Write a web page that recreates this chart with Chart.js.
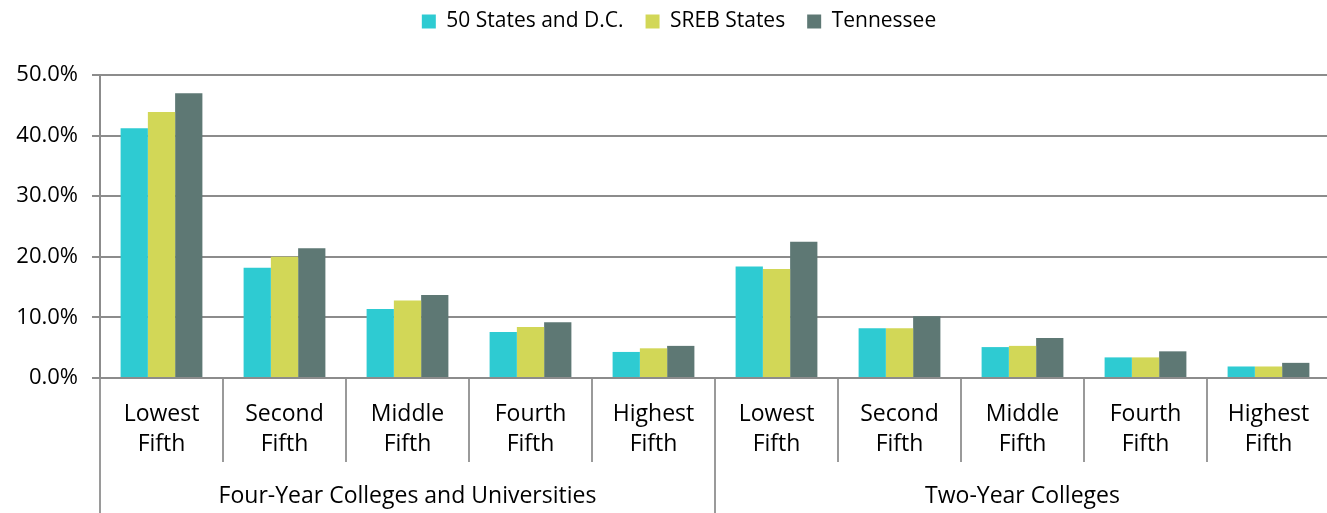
<!DOCTYPE html>
<html>
<head>
<meta charset="utf-8">
<script src="https://cdn.jsdelivr.net/npm/chart.js@4"></script>
<style>
  html, body { margin: 0; padding: 0; background: #fff; overflow: hidden; }
  #wrap { width: 1330px; height: 513px; }
</style>
</head>
<body>
<div id="wrap"><canvas id="incomeChart" width="1330" height="513"></canvas></div>
<script>
// income fifths, repeated for each college type
const fifths = [
  ["Lowest", "Fifth"], ["Second", "Fifth"], ["Middle", "Fifth"], ["Fourth", "Fifth"], ["Highest", "Fifth"],
  ["Lowest", "Fifth"], ["Second", "Fifth"], ["Middle", "Fifth"], ["Fourth", "Fifth"], ["Highest", "Fifth"]
];
const collegeTypes = ["Four-Year Colleges and Universities", "Two-Year Colleges"];

const allStates = [41.2, 18.2, 11.4, 7.6, 4.3, 18.4, 8.2, 5.1, 3.4, 1.9];
const srebStates = [43.9, 20.0, 12.8, 8.4, 4.9, 18.0, 8.2, 5.3, 3.4, 1.9];
const tennessee = [47.0, 21.4, 13.7, 9.2, 5.3, 22.5, 10.2, 6.6, 4.4, 2.5];

const FONT = "'Open Sans', sans-serif";
const LINE = "#8c8c8c";
const SEP = "#9a9a9a";

Chart.defaults.font.family = FONT;
Chart.defaults.font.size = 23;
Chart.defaults.color = "#000";

// extra room between the legend row and the plot, legend nudged right
const legendGap = {
  id: "legendGap",
  beforeInit(chart) {
    const fit = chart.legend.fit;
    chart.legend.fit = function () {
      fit.call(this);
      this.height += 33;
    };
  },
  afterLayout(chart) {
    chart.legend.left += 14;
    chart.legend.right += 14;
  }
};

const data = {
  labels: fifths,
  datasets: [
    { label: "50 States and D.C.", data: allStates, backgroundColor: "#2ecbd2" },
    { label: "SREB States", data: srebStates, backgroundColor: "#d2d757" },
    { label: "Tennessee", data: tennessee, backgroundColor: "#5e7874" }
  ]
};

let config = {
  type: "bar",
  data: data,
  plugins: [legendGap],
  options: {
    responsive: false,
    animation: false,
    devicePixelRatio: 1,
    categoryPercentage: 0.665,
    barPercentage: 1.0,
    layout: { padding: { top: -11, left: 0, right: 0, bottom: 0 } },
    scales: {
      y: {
        min: 0,
        max: 50,
        ticks: {
          stepSize: 10,
          padding: 14,
          font: { size: 22 },
          callback: (v) => v.toFixed(1) + "%"
        },
        grid: { color: LINE, lineWidth: 2, tickLength: 8 },
        border: { color: LINE, width: 2 },
        afterFit: (scale) => { scale.width = 100; }
      },
      x: {
        grid: { offset: true, drawOnChartArea: false, color: SEP, lineWidth: 2, tickLength: 84 },
        border: { color: LINE, width: 2 },
        ticks: {
          padding: -62,
          font: { lineHeight: 1.3 },
          maxRotation: 0,
          autoSkip: false
        },
        afterFit: (scale) => { scale.height = 84; }
      },
      groups: {
        type: "category",
        position: "bottom",
        labels: collegeTypes,
        grid: { offset: true, drawOnChartArea: false, color: SEP, lineWidth: 2, tickLength: 60 },
        border: { display: false },
        ticks: {
          padding: -40,
          font: { lineHeight: 1.3 },
          maxRotation: 0,
          autoSkip: false
        },
        afterFit: (scale) => { scale.height = 51; }
      }
    },
    plugins: {
      legend: {
        position: "top",
        labels: {
          boxWidth: 14,
          boxHeight: 14,
          padding: 22,
          font: { size: 21 },
          color: "#000"
        }
      },
      tooltip: { enabled: false }
    }
  }
};

const ctx = document.getElementById("incomeChart").getContext("2d");
let incomeChart = new Chart(ctx, config);
</script>
</body>
</html>
